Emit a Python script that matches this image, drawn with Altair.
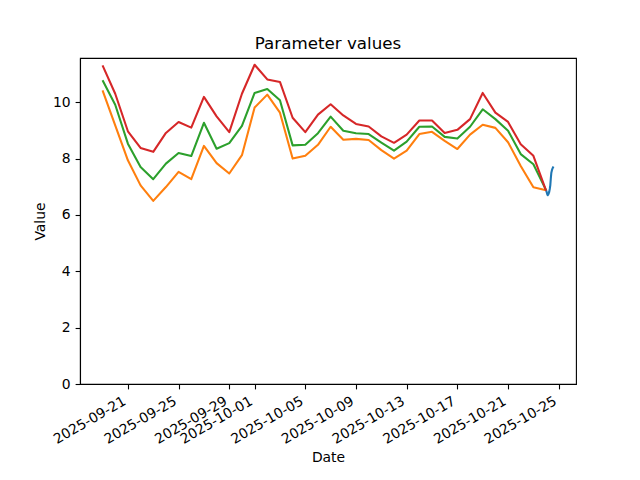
import altair as alt
import pandas as pd

# ---- data ----
start_day = "2025-09-19"
n_days = 36
orange_vals = [10.42, 9.18, 7.94, 7.05, 6.50, 6.99, 7.53, 7.27, 8.45, 7.84,
               7.47, 8.12, 9.81, 10.27, 9.63, 8.00, 8.10, 8.49, 9.13, 8.67,
               8.70, 8.66, 8.30, 8.00, 8.28, 8.87, 8.95, 8.63, 8.34, 8.85,
               9.20, 9.09, 8.58, 7.74, 6.98, 6.88]
green_vals = [10.78, 9.91, 8.53, 7.70, 7.27, 7.82, 8.20, 8.09, 9.27, 8.35,
              8.55, 9.16, 10.33, 10.47, 10.07, 8.47, 8.49, 8.90, 9.49, 8.99,
              8.90, 8.87, 8.57, 8.28, 8.60, 9.13, 9.14, 8.77, 8.71, 9.13,
              9.75, 9.40, 8.99, 8.16, 7.80, 6.88]
red_vals = [11.31, 10.30, 8.97, 8.38, 8.24, 8.91, 9.30, 9.10, 10.19, 9.50,
            8.94, 10.30, 11.33, 10.81, 10.72, 9.45, 8.94, 9.56, 9.93, 9.53,
            9.23, 9.14, 8.79, 8.56, 8.85, 9.35, 9.35, 8.91, 9.02, 9.40,
            10.33, 9.63, 9.30, 8.51, 8.10, 6.86]
blue_start = "2025-10-24"
blue_vals = [6.88, 6.82, 6.75, 6.70, 6.72, 6.76, 6.82, 6.92, 7.05, 7.30,
             7.50, 7.58, 7.64, 7.68, 7.72]

tick_dates = ["2025-09-21", "2025-09-25", "2025-09-29", "2025-10-01",
              "2025-10-05", "2025-10-09", "2025-10-13", "2025-10-17",
              "2025-10-21", "2025-10-25"]
y_ticks = [0, 2, 4, 6, 8, 10]

days = pd.date_range(start_day, periods=n_days, freq="D", tz="UTC")
hours = pd.date_range(blue_start, periods=len(blue_vals), freq="h", tz="UTC")


def frame(idx, vals):
    return pd.DataFrame({"Date": [d.strftime("%Y-%m-%dT%H:%M:%SZ") for d in idx],
                         "Value": vals})


def dt(s, h=0, m=0):
    y, mo, d = (int(p) for p in s.split("-"))
    return alt.DateTime(year=y, month=mo, date=d, hours=h, minutes=m, utc=True)


x_scale = alt.Scale(type="utc", domain=[dt("2025-09-17", 5, 18), dt("2025-10-26", 8, 42)], nice=False)
y_scale = alt.Scale(domain=[0, 11.57], nice=False, zero=False)

x_axis = alt.Axis(values=[dt(t) for t in tick_dates], format="%Y-%m-%d", labelAngle=330,
                  labelAlign="right", labelBaseline="top", labelOffset=-7,
                  labelPadding=4.9, tickSize=4.9, title="Date", titlePadding=4.5,
                  labelOverlap=False, labelFlush=False)
y_axis = alt.Axis(values=y_ticks, tickSize=4.9, labelPadding=4.9, title="Value",
                  titlePadding=5.5, format="d", labelOverlap=False, labelFlush=False)


def line(df, color):
    return alt.Chart(df).mark_line(color=color, strokeWidth=2.08, strokeJoin="round").encode(
        x=alt.X("Date:T", scale=x_scale, axis=x_axis),
        y=alt.Y("Value:Q", scale=y_scale, axis=y_axis),
    )


chart = alt.layer(
    line(frame(hours, blue_vals), "#1f77b4"),
    line(frame(days, orange_vals), "#ff7f0e"),
    line(frame(days, green_vals), "#2ca02c"),
    line(frame(days, red_vals), "#d62728"),
).properties(
    width=496, height=326,
    title=alt.TitleParams("Parameter values", font="DejaVu Sans", fontSize=16.7,
                          fontWeight="normal", color="black", anchor="middle",
                          baseline="alphabetic", offset=-7.7, frame="group"),
    autosize=alt.AutoSizeParams(type="none"),
    padding={"left": 72, "top": 50, "right": 56, "bottom": 88},
).configure_view(
    stroke="black", strokeWidth=1.1
).configure_axis(
    grid=False, domainColor="black", domainWidth=1.1, tickColor="black", tickWidth=1.1,
    labelColor="black", titleColor="black", labelFont="DejaVu Sans", titleFont="DejaVu Sans",
    labelFontSize=13.9, titleFontSize=13.9, titleFontWeight="normal",
)

chart.save("out.html", embed_options={"renderer": "svg", "actions": False})
